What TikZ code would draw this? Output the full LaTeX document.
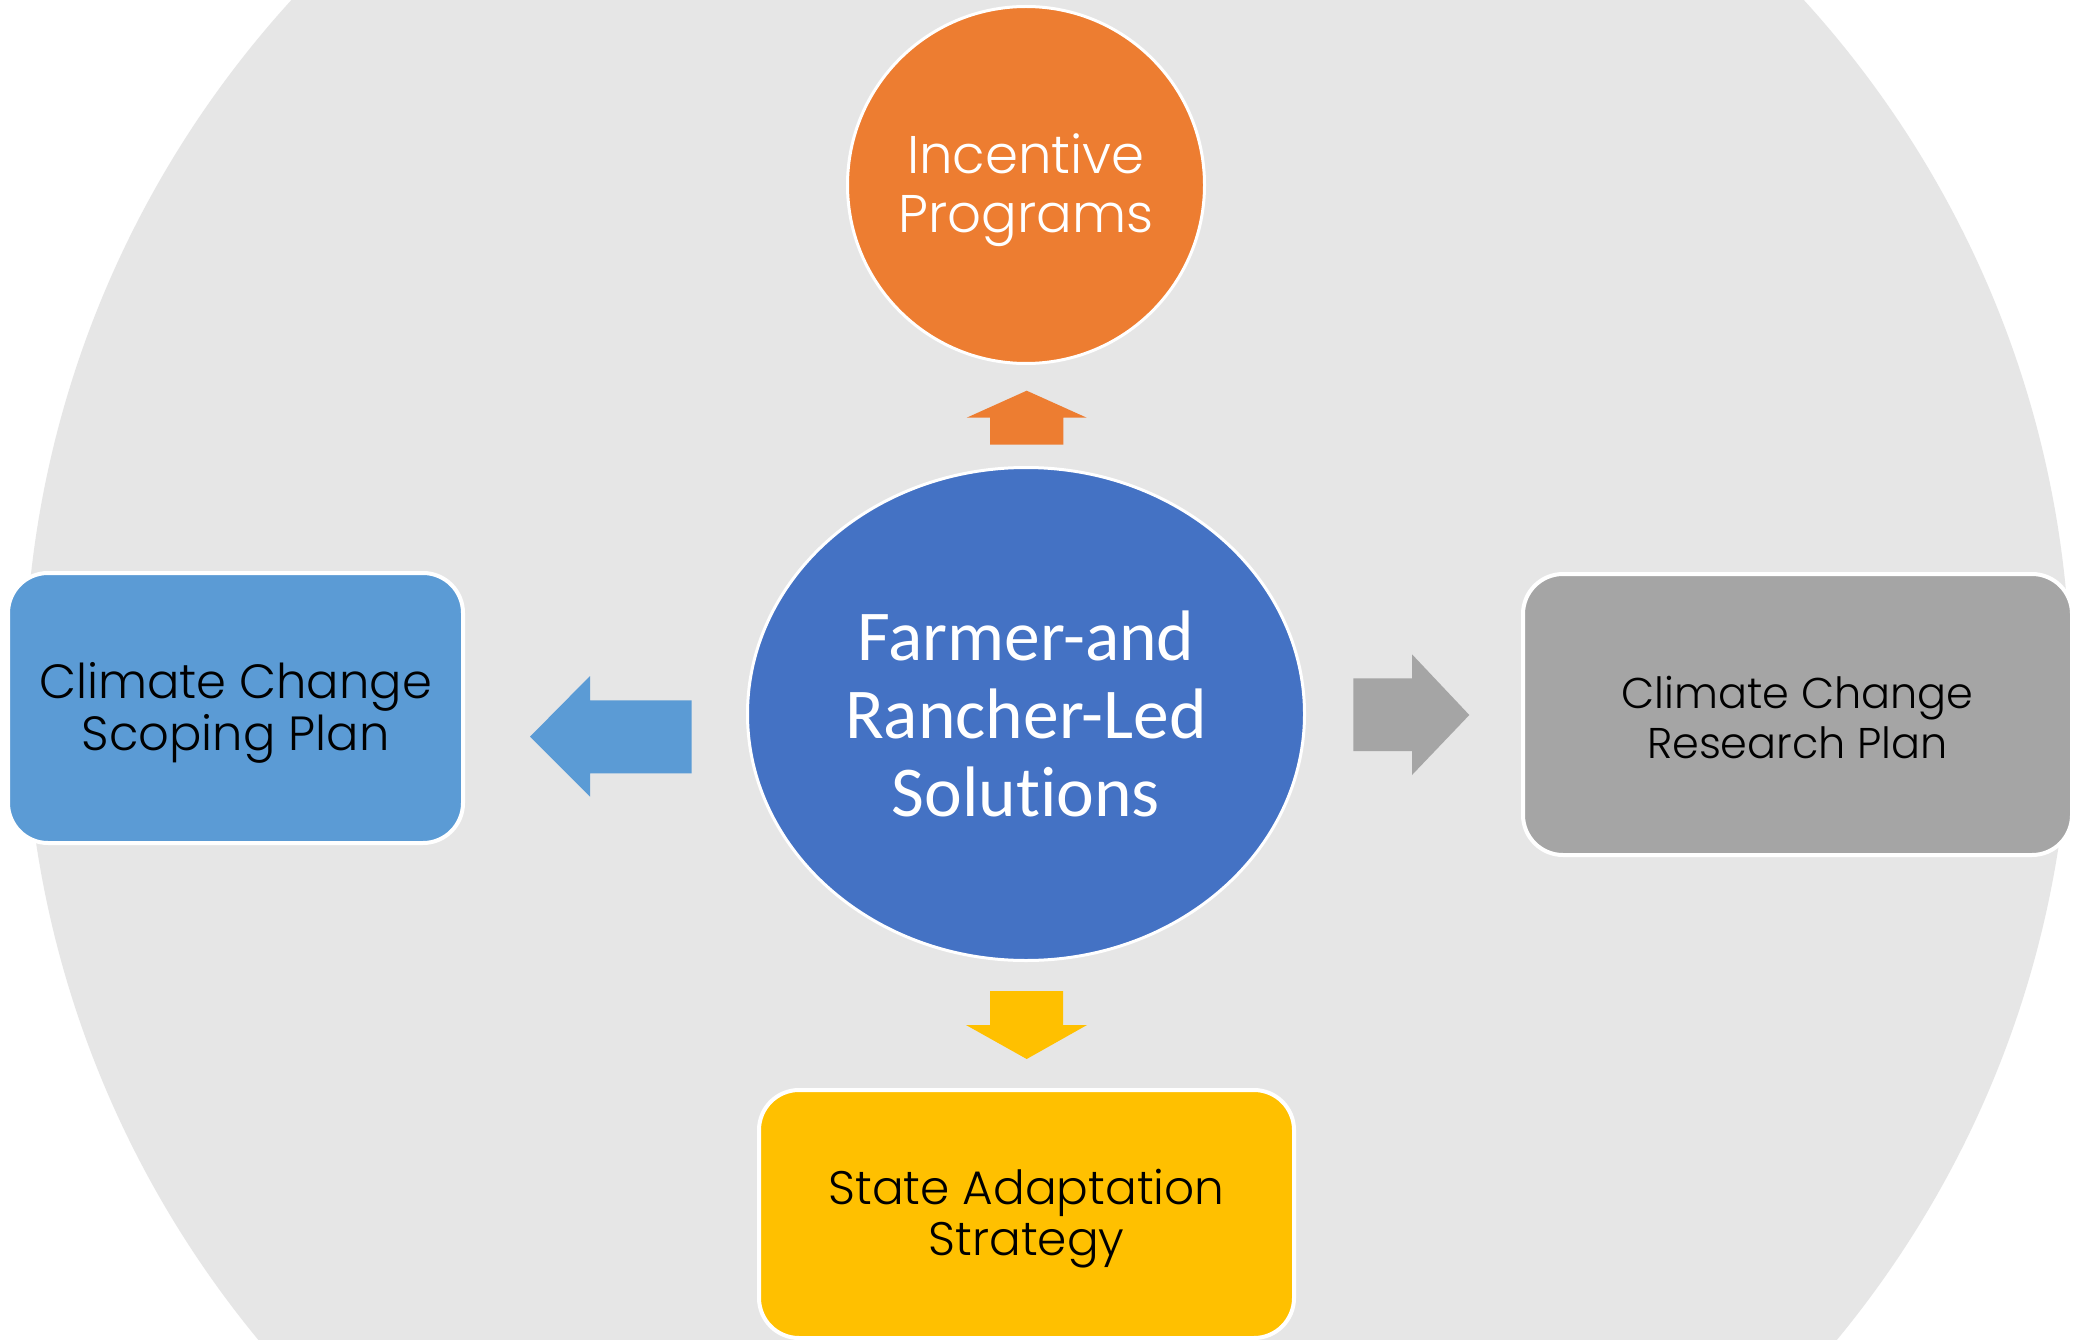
\documentclass[tikz,border=0pt]{standalone}
\usepackage{fontspec}
\setmainfont{Poppins}[UprightFont=* Light]
\newfontfamily\hubfont{Carlito}[Ligatures=NoCommon]
\usetikzlibrary{shapes.geometric}

\definecolor{ringgray}{HTML}{E6E6E6}
\definecolor{hubblue}{HTML}{4472C4}
\definecolor{planblue}{HTML}{5B9BD5}
\definecolor{incorange}{HTML}{ED7D31}
\definecolor{resgray}{HTML}{A5A5A5}
\definecolor{stategold}{HTML}{FFC000}

\tikzset{
  planbox/.style={draw=white, line width=4pt, rounded corners=40pt,
    inner sep=0pt, align=center, text=black},
  roundbox/.style={draw=white, line width=3pt, inner sep=0pt,
    align=center, text=white}
}

\begin{document}
\begin{tikzpicture}[x=1pt,y=-1pt]
    % Page frame and the big grey disc behind everything
    \useasboundingbox (0,0) rectangle (2074,1340);
    \clip (0,0) rectangle (2074,1340);
    \fill[white] (0,0) rectangle (2074,1340);
    \fill[ringgray] (1047.6,689) circle[radius=1023pt];

    % The hub in the middle
    \node[roundbox, ellipse, fill=hubblue, minimum width=557pt, minimum height=493pt,
      font=\hubfont\fontsize{71.5}{78}\selectfont] (hub) at (1026,714)
      {Farmer-and\\Rancher-Led\\Solutions};

    % Circle on top
    \node[roundbox, circle, fill=incorange, minimum size=357pt] (incentive) at (1026,185) {};
    \node[text=white, align=center, font=\fontsize{53}{59}\selectfont]
      (incentivetext) at ([yshift=-5pt]incentive.center) {Incentive\\Programs};

    % Boxes left, right and below
    \node[planbox, fill=planblue, minimum width=455pt, minimum height=270pt] (scoping) at (235.5,708) {};
    \node[font=\fontsize{48}{52}\selectfont, align=center]
      (scopingtext) at ([yshift=-5pt]scoping.center) {Climate Change\\Scoping Plan};
    \node[planbox, fill=resgray, minimum width=549pt, minimum height=281pt] (research) at (1797.5,714.5) {};
    \node[font=\fontsize{43}{50}\selectfont, align=center]
      (researchtext) at ([yshift=-3pt]research.center) {Climate Change\\Research Plan};
    \node[planbox, fill=stategold, minimum width=535pt, minimum height=248pt] (adaptation) at (1026.5,1214) {};
    \node[font=\fontsize{47}{51}\selectfont, align=center]
      (adaptationtext) at ([yshift=-5pt]adaptation.center) {State Adaptation\\Strategy};

    % Block arrows pointing out of the hub
    \fill[incorange] (990,444.7) -- (990,417.7) -- (966.7,417.7) -- (1026.7,390.7)
      -- (1086.7,417.7) -- (1063.3,417.7) -- (1063.3,444.7) -- cycle; % up
    \fill[planblue] (691.7,700.3) -- (590,700.3) -- (590,676) -- (530,736.7)
      -- (590,796.7) -- (590,773.3) -- (691.7,773.3) -- cycle; % left
    \fill[resgray] (1353.3,678.3) -- (1412,678.3) -- (1412,654.3) -- (1469.3,715)
      -- (1412,775) -- (1412,751) -- (1353.3,751) -- cycle; % right
    \fill[stategold] (990,991) -- (990,1025) -- (966,1025) -- (1026.7,1059)
      -- (1087,1025) -- (1063,1025) -- (1063,991) -- cycle; % down
\end{tikzpicture}
\end{document}
